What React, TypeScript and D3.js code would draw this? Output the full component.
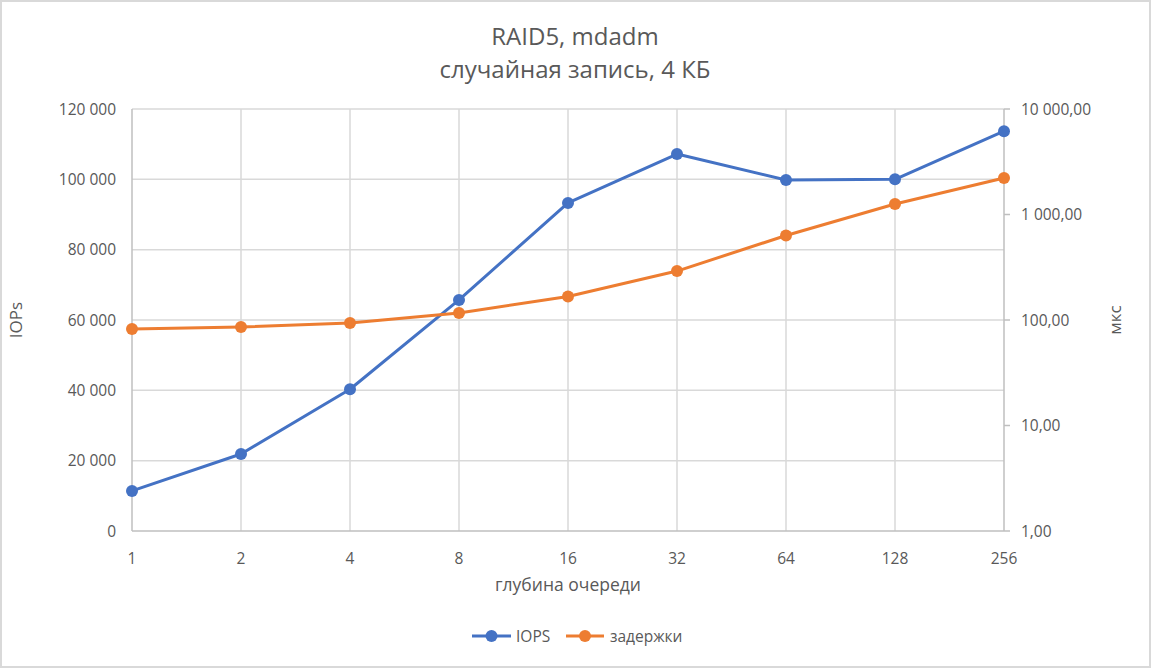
import React from "react";
import * as d3 from "d3";

const depths = ["1", "2", "4", "8", "16", "32", "64", "128", "256"];
const iops = [11400, 21900, 40300, 65700, 93300, 107200, 99800, 100000, 113700];
const latency = [82.2, 85.9, 93.7, 116.5, 167, 291, 632, 1258, 2218];
const leftTicks = [0, 20000, 40000, 60000, 80000, 100000, 120000];
const rightTicks = [1, 10, 100, 1000, 10000];
const titleLines = ["RAID5, mdadm", "случайная запись, 4 КБ"];

const W = 1151, H = 668;
const M = { left: 132, right: 1004, top: 109, bottom: 531 };
const FONT = "'Open Sans', 'Noto Sans', sans-serif";
const TXT = "#595959";
const BLUE = "#4472C4";
const ORANGE = "#ED7D31";

const fmtLeft = (v: number) => d3.format(",")(v).replace(/,/g, " ");
const fmtRight = (v: number) => d3.format(",.2f")(v).replace(/,/g, " ").replace(".", ",");

export default function App() {
  const x = d3.scalePoint().domain(depths).range([M.left, M.right]);
  const yL = d3.scaleLinear().domain([0, 120000]).range([M.bottom, M.top]);
  const yR = d3.scaleLog().domain([1, 10000]).range([M.bottom, M.top]);

  const lineL = d3.line<number>().x((_, i) => x(depths[i])!).y((v) => yL(v));
  const lineR = d3.line<number>().x((_, i) => x(depths[i])!).y((v) => yR(v));

  const cx = (M.left + M.right) / 2;

  return (
    <svg width={W} height={H} style={{ position: "absolute", left: 0, top: 0, fontFamily: FONT }}>
      <rect x={1} y={1} width={W - 2} height={H - 2} fill="#fff" stroke="#d9d9d9" strokeWidth={2} />
      {titleLines.map((t, i) => (
        <text key={t} x={W / 2 - 0.5} y={45 + i * 33} textAnchor="middle" fontSize={24} fill={TXT}>{t}</text>
      ))}
      {leftTicks.map((v) => (
        <g key={v}>
          {v > 0 && <line x1={M.left} x2={M.right} y1={yL(v)} y2={yL(v)} stroke="#d9d9d9" strokeWidth={1.5} />}
          <text x={116} y={yL(v) + 5.5} textAnchor="end" fontSize={15.5} fill={TXT}>{fmtLeft(v)}</text>
        </g>
      ))}
      {depths.map((d, i) => (
        <g key={d}>
          {i > 0 && i < depths.length - 1 && (
            <line x1={x(d)} x2={x(d)} y1={M.top} y2={M.bottom} stroke="#d9d9d9" strokeWidth={1.5} />
          )}
          <text x={x(d)} y={M.bottom + 33} textAnchor="middle" fontSize={15.5} fill={TXT}>{d}</text>
        </g>
      ))}
      <line x1={M.left} x2={M.left} y1={M.top} y2={M.bottom} stroke="#bfbfbf" strokeWidth={1.5} />
      <line x1={M.left} x2={M.right} y1={M.bottom} y2={M.bottom} stroke="#bfbfbf" strokeWidth={1.5} />
      <line x1={M.right} x2={M.right} y1={M.top} y2={M.bottom} stroke="#bfbfbf" strokeWidth={1.5} />
      {rightTicks.map((v) => (
        <g key={v}>
          <line x1={M.right} x2={M.right + 6} y1={yR(v)} y2={yR(v)} stroke="#bfbfbf" strokeWidth={1.5} />
          <text x={1021} y={yR(v) + 5.5} textAnchor="start" fontSize={15.5} fill={TXT}>{fmtRight(v)}</text>
        </g>
      ))}
      <text transform={`translate(22,${(M.top + M.bottom) / 2}) rotate(-90)`} textAnchor="middle" fontSize={17} fill={TXT}>IOPs</text>
      <text transform={`translate(1121,${(M.top + M.bottom) / 2}) rotate(-90)`} textAnchor="middle" fontSize={17} fill={TXT}>мкс</text>
      <text x={cx} y={591} textAnchor="middle" fontSize={17.5} fill={TXT}>глубина очереди</text>

      <path d={lineL(iops) || ""} fill="none" stroke={BLUE} strokeWidth={3} strokeLinejoin="round" />
      {iops.map((v, i) => (
        <circle key={i} cx={x(depths[i])} cy={yL(v)} r={6} fill={BLUE} />
      ))}
      <path d={lineR(latency) || ""} fill="none" stroke={ORANGE} strokeWidth={3} strokeLinejoin="round" />
      {latency.map((v, i) => (
        <circle key={i} cx={x(depths[i])} cy={yR(v)} r={6} fill={ORANGE} />
      ))}

      <g>
        <line x1={472} x2={511} y1={636} y2={636} stroke={BLUE} strokeWidth={3} />
        <circle cx={491.5} cy={636} r={6} fill={BLUE} />
        <text x={516} y={641.5} fontSize={15.5} fill={TXT}>IOPS</text>
        <line x1={566} x2={604} y1={636} y2={636} stroke={ORANGE} strokeWidth={3} />
        <circle cx={585} cy={636} r={6} fill={ORANGE} />
        <text x={610} y={641.5} fontSize={15.5} fill={TXT}>задержки</text>
      </g>
    </svg>
  );
}
